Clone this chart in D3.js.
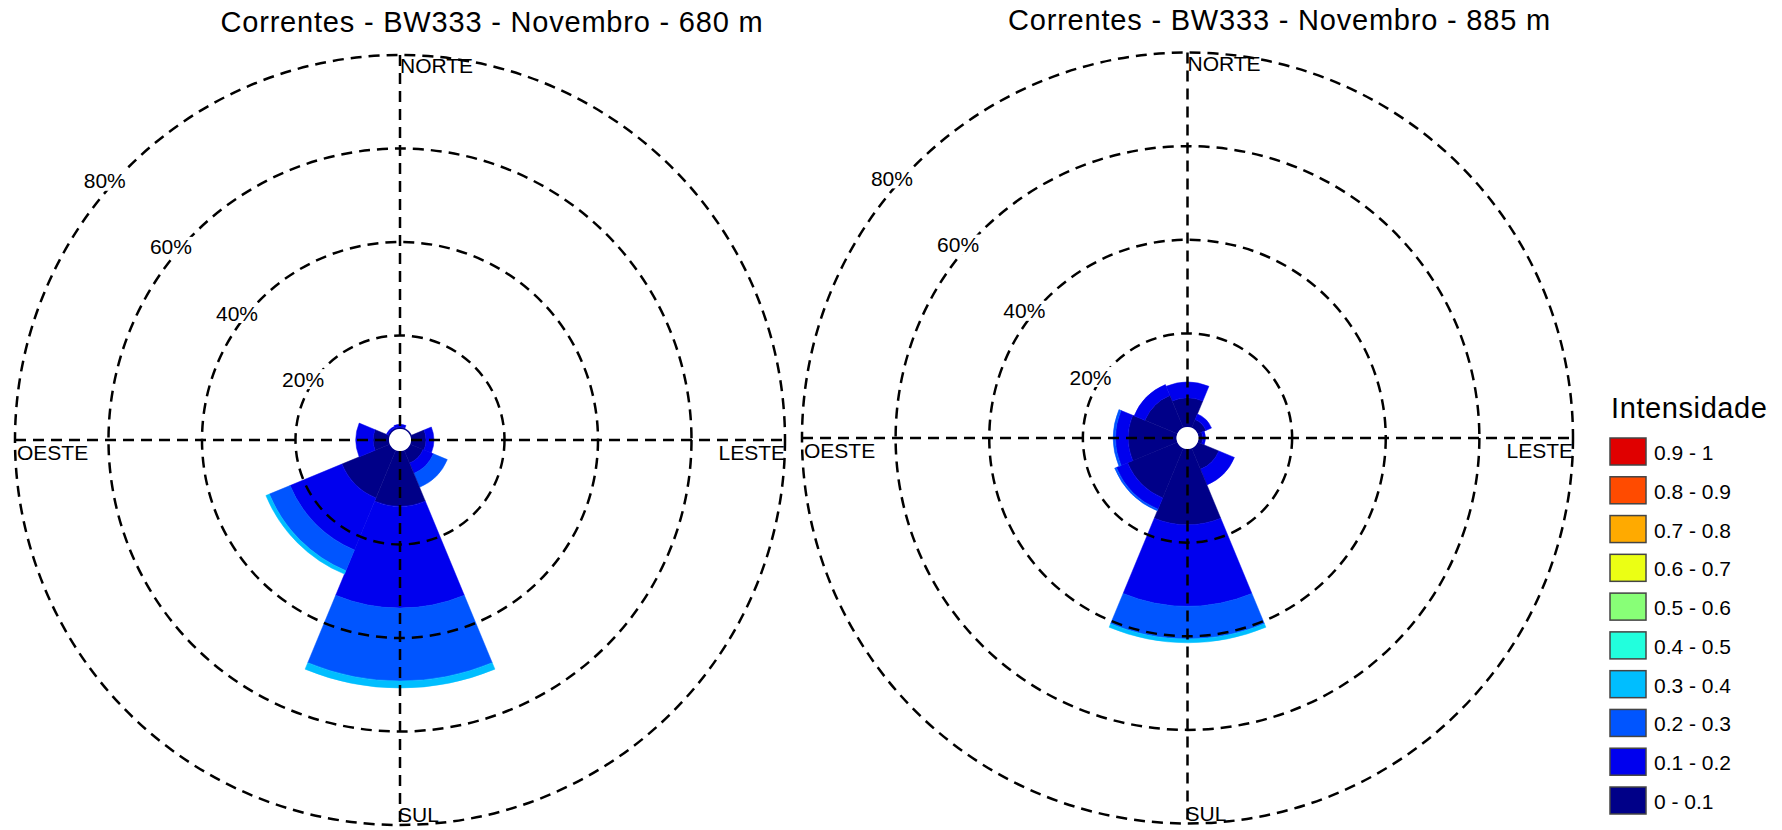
<!DOCTYPE html>
<html>
<head>
<meta charset="utf-8">
<script src="https://cdn.jsdelivr.net/npm/d3@7"></script>
<style>
  html, body { margin: 0; padding: 0; background: #fff; }
  svg { display: block; }
  text { font-family: "Liberation Sans", Arial, sans-serif; fill: #000; }
</style>
</head>
<body>
<svg id="chart" width="1782" height="830"></svg>
<script>
// ---- data ----
const directions = ["N", "NE", "E", "SE", "S", "SW", "W", "NW"];
const directionBearings = [0, 45, 90, 135, 180, 225, 270, 315];
const compassLabels = ["NORTE", "LESTE", "SUL", "OESTE"];
const ringTicks = [20, 40, 60, 80];
const ringTickLabels = ["20%", "40%", "60%", "80%"];

const binLabels = ["0 - 0.1", "0.1 - 0.2", "0.2 - 0.3", "0.3 - 0.4", "0.4 - 0.5",
                   "0.5 - 0.6", "0.6 - 0.7", "0.7 - 0.8", "0.8 - 0.9", "0.9 - 1"];
const binColors = ["#000088", "#0000EE", "#0055FF", "#00BEFF", "#22FFDD",
                   "#88FF77", "#EBFF14", "#FFAA00", "#FF4B00", "#E00000"];

// frequency (%) per direction (N, NE, E, SE, S, SW, W, NW) for each speed bin — 680 m
const f680_bin0 = [0.4, 0.3, 3.2, 3.0, 11.8, 11.1, 3.4, 0.4];
const f680_bin1 = [0.6, 0.0, 1.7, 2.4, 21.8, 12.0, 3.7, 0.4];
const f680_bin2 = [0.0, 0.0, 0.0, 3.2, 15.6, 4.8, 0.0, 0.0];
const f680_bin3 = [0.0, 0.0, 0.0, 0.0, 1.5, 0.8, 0.0, 0.0];

// 885 m
const f885_bin0 = [6.2, 1.9, 0.9, 4.9, 16.2, 11.5, 10.3, 7.5];
const f885_bin1 = [3.4, 1.3, 0.6, 3.6, 17.4, 2.6, 2.7, 2.5];
const f885_bin2 = [0.0, 0.0, 0.0, 0.0, 7.0, 0.4, 0.5, 0.0];
const f885_bin3 = [0.0, 0.0, 0.0, 0.0, 0.8, 0.0, 0.0, 0.0];

const titles = ["Correntes - BW333 - Novembro - 680 m", "Correntes - BW333 - Novembro - 885 m"];

// ---- drawing ----
const svg = d3.select("#chart");

function drawRose(cfg) {
  const { cx, cy, R, hole, title, titleY, bins } = cfg;
  const g = svg.append("g").attr("transform", `translate(${cx},${cy})`);
  const r = d3.scaleLinear().domain([0, 80]).range([hole, R]);
  const half = 22.5 * Math.PI / 180;
  const arc = d3.arc();

  // stacked wedges
  directions.forEach((d, i) => {
    const a = directionBearings[i] * Math.PI / 180;
    let cum = 0;
    bins.forEach((arr, b) => {
      const v = arr[i];
      if (v <= 0) return;
      const inner = r(cum);
      cum += v;
      g.append("path")
        .attr("d", arc({ innerRadius: inner, outerRadius: r(cum), startAngle: a - half, endAngle: a + half }))
        .attr("fill", binColors[b])
        .attr("stroke", binColors[b])
        .attr("stroke-width", 0.5);
    });
  });

  const dash = "11,7", sw = 2.5;
  // dashed rings
  ringTicks.forEach(t => {
    g.append("circle").attr("r", r(t))
      .attr("fill", "none").attr("stroke", "#000")
      .attr("stroke-width", sw).attr("stroke-dasharray", dash);
  });
  // axes
  g.append("line").attr("x1", -R).attr("x2", R).attr("y1", 0).attr("y2", 0)
    .attr("stroke", "#000").attr("stroke-width", sw).attr("stroke-dasharray", dash);
  g.append("line").attr("y1", -R).attr("y2", R).attr("x1", 0).attr("x2", 0)
    .attr("stroke", "#000").attr("stroke-width", sw).attr("stroke-dasharray", dash);

  // centre hole
  g.append("circle").attr("r", hole).attr("fill", "#fff");

  // ring labels along bearing 315
  const lb = 315 * Math.PI / 180;
  ringTicks.forEach((t, k) => {
    const px = Math.sin(lb) * r(t) - 23;
    const py = -Math.cos(lb) * r(t) + 13;
    g.append("rect").attr("x", px - 24).attr("y", py - 10).attr("width", 48).attr("height", 20).attr("fill", "#fff");
    g.append("text").attr("x", px).attr("y", py + 7.5)
      .attr("text-anchor", "middle").attr("font-size", 21)
      .text(ringTickLabels[k]);
  });

  // compass labels
  g.append("text").attr("x", 0).attr("y", -R + 18).attr("font-size", 21).text(compassLabels[0]);
  g.append("text").attr("x", R).attr("y", 20).attr("font-size", 21).attr("text-anchor", "end").text(compassLabels[1]);
  g.append("text").attr("x", -2).attr("y", R - 3).attr("font-size", 21).text(compassLabels[2]);
  g.append("text").attr("x", -R + 2).attr("y", 20).attr("font-size", 21).text(compassLabels[3]);

  // title
  svg.append("text").attr("x", cx + 92).attr("y", titleY)
    .attr("text-anchor", "middle").attr("font-size", 29).attr("letter-spacing", 0.8)
    .text(title);
}

drawRose({ cx: 400, cy: 440, R: 385, hole: 11, title: titles[0], titleY: 32,
           bins: [f680_bin0, f680_bin1, f680_bin2, f680_bin3] });
drawRose({ cx: 1187.5, cy: 438, R: 385.5, hole: 11, title: titles[1], titleY: 30,
           bins: [f885_bin0, f885_bin1, f885_bin2, f885_bin3] });

// legend
const leg = svg.append("g");
leg.append("text").attr("x", 1611).attr("y", 418).attr("font-size", 29).attr("letter-spacing", 0.6).text("Intensidade");
const order = d3.range(binLabels.length).reverse();
const ly = d3.scaleLinear().domain([0, 9]).range([438, 787]);
order.forEach((b, k) => {
  leg.append("rect").attr("x", 1610).attr("y", ly(k)).attr("width", 36).attr("height", 27)
    .attr("fill", binColors[b]).attr("stroke", "#444").attr("stroke-width", 1.5);
  leg.append("text").attr("x", 1654).attr("y", ly(k) + 22).attr("font-size", 21).text(binLabels[b]);
});
</script>
</body>
</html>
